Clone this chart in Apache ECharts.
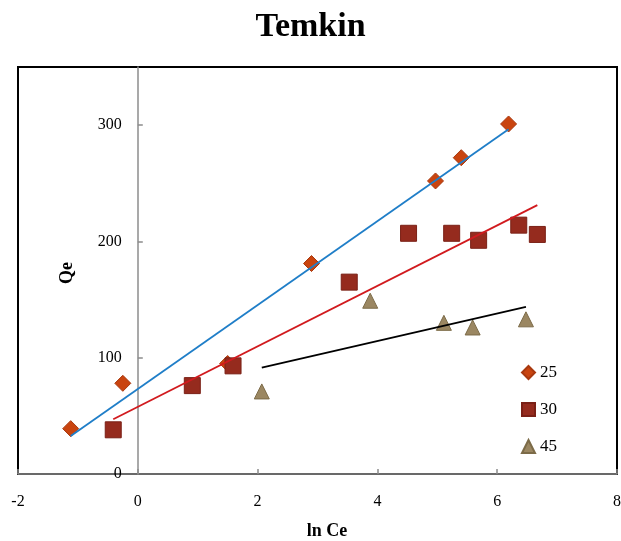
<!DOCTYPE html>
<html>
<head>
<meta charset="utf-8">
<script src="https://cdn.jsdelivr.net/npm/echarts@6/dist/echarts.min.js"></script>
<style>
  html, body { margin: 0; padding: 0; background: #fff; }
  #chart { width: 621px; height: 541px; }
</style>
</head>
<body>
<div id="chart"></div>
<script>
// Temkin isotherm: Qe against ln Ce at three temperatures
const lnCe25 = [-1.12, -0.25, 1.50, 2.90, 4.97, 5.40, 6.19];
const qe25   = [39, 78, 95, 181, 252, 272, 301];

const lnCe30 = [-0.41, 0.91, 1.59, 3.53, 4.52, 5.24, 5.69, 6.36, 6.67];
const qe30   = [38, 76, 93, 165, 207, 207, 201, 214, 206];

const lnCe45 = [2.07, 3.88, 5.11, 5.59, 6.48];
const qe45   = [71, 149, 130, 126, 133];

const seriesNames = ['25', '30', '45'];
const xTicks = [-2, 0, 2, 4, 6, 8];
const yTicks = [0, 100, 200, 300];

const SERIF = '"Liberation Serif", "DejaVu Serif", serif';

const GRID = { left: 18, right: 4, top: 67, bottom: 67 };
const X_MIN = -2, X_MAX = 8;

function pairs(xs, ys) {
  return xs.map((x, i) => [x, ys[i]]);
}

// least-squares trendline spanning the series' x range
function trend(xs, ys) {
  const n = xs.length;
  const mx = xs.reduce((a, b) => a + b, 0) / n;
  const my = ys.reduce((a, b) => a + b, 0) / n;
  let sxy = 0, sxx = 0;
  for (let i = 0; i < n; i++) {
    sxy += (xs[i] - mx) * (ys[i] - my);
    sxx += (xs[i] - mx) * (xs[i] - mx);
  }
  const b = sxy / sxx;
  const a = my - b * mx;
  const x0 = Math.min(...xs), x1 = Math.max(...xs);
  return [[x0, a + b * x0], [x1, a + b * x1]];
}

const el = document.getElementById('chart');
const chart = echarts.init(el);

// the vertical axis sits at ln Ce = 0, inside the plot box
const plotWidth = 621 - GRID.left - GRID.right;
const yAxisShift = plotWidth * (0 - X_MIN) / (X_MAX - X_MIN);

const scatterBase = { type: 'scatter', z: 2 };
const lineBase = { type: 'line', symbol: 'none', silent: true, z: 3 };

chart.setOption({
  animation: false,
  backgroundColor: '#fff',
  title: {
    text: 'Temkin',
    left: 'center',
    top: 5,
    textStyle: { fontFamily: SERIF, fontSize: 34, fontWeight: 'bold', color: '#000' }
  },
  grid: Object.assign({}, GRID, {
    outerBoundsMode: 'none',
    containLabel: false,
    show: true, borderColor: '#000', borderWidth: 2, backgroundColor: 'transparent'
  }),
  xAxis: {
    type: 'value', min: X_MIN, max: X_MAX, interval: 2,
    axisLine: { onZero: true, lineStyle: { color: '#8c8c8c', width: 1.5 } },
    axisTick: { show: true, inside: true, length: 5, lineStyle: { color: '#8c8c8c', width: 1.5 } },
    axisLabel: {
      margin: 20, color: '#000', fontFamily: SERIF, fontSize: 16,
      customValues: xTicks
    },
    splitLine: { show: false }
  },
  yAxis: {
    type: 'value', min: 0, max: 350, interval: 50,
    offset: -yAxisShift,
    axisLine: { show: true, onZero: false, lineStyle: { color: '#8c8c8c', width: 1.5 } },
    axisTick: {
      show: true, inside: true, length: 5, lineStyle: { color: '#8c8c8c', width: 1.5 },
      customValues: yTicks.filter(v => v > 0)
    },
    axisLabel: {
      margin: 16, color: '#000', fontFamily: SERIF, fontSize: 16,
      customValues: yTicks,
      formatter: v => (yTicks.indexOf(v) >= 0 ? String(v) : '')
    },
    splitLine: { show: false }
  },
  legend: {
    orient: 'vertical',
    left: 516, top: 359,
    itemWidth: 13, itemHeight: 13, itemGap: 20, itemTextGap: 5,
    textStyle: { fontFamily: SERIF, fontSize: 17, color: '#000' },
    data: [
      { name: seriesNames[0], icon: 'diamond' },
      { name: seriesNames[1], icon: 'rect' },
      { name: seriesNames[2], icon: 'triangle' }
    ]
  },
  graphic: [
    {
      type: 'text', x: 327, y: 531,
      style: { text: 'ln Ce', font: 'bold 18px ' + SERIF, fill: '#000', align: 'center', verticalAlign: 'middle' }
    },
    {
      type: 'text', x: 67, y: 273, rotation: Math.PI / 2,
      style: { text: 'Qe', font: 'bold 18px ' + SERIF, fill: '#000', align: 'center', verticalAlign: 'middle' }
    }
  ],
  series: [
    Object.assign({}, scatterBase, {
      name: seriesNames[0], symbol: 'diamond', symbolSize: 16,
      itemStyle: { color: '#C9440F', borderColor: '#A8380E', borderWidth: 1, opacity: 1 },
      data: pairs(lnCe25, qe25)
    }),
    Object.assign({}, scatterBase, {
      name: seriesNames[1], symbol: 'rect', symbolSize: 16,
      itemStyle: { color: '#952B1E', borderColor: '#7A2016', borderWidth: 1, opacity: 1 },
      data: pairs(lnCe30, qe30)
    }),
    Object.assign({}, scatterBase, {
      name: seriesNames[2], symbol: 'triangle', symbolSize: 15,
      itemStyle: { color: '#9B8762', borderColor: '#7C6B48', borderWidth: 1, opacity: 1 },
      data: pairs(lnCe45, qe45)
    }),
    Object.assign({}, lineBase, {
      lineStyle: { color: '#1F7EC8', width: 1.8 },
      data: trend(lnCe25, qe25)
    }),
    Object.assign({}, lineBase, {
      lineStyle: { color: '#D11A1E', width: 1.8 },
      data: trend(lnCe30, qe30)
    }),
    Object.assign({}, lineBase, {
      lineStyle: { color: '#000', width: 1.8 },
      data: trend(lnCe45, qe45)
    })
  ]
});
</script>
</body>
</html>
